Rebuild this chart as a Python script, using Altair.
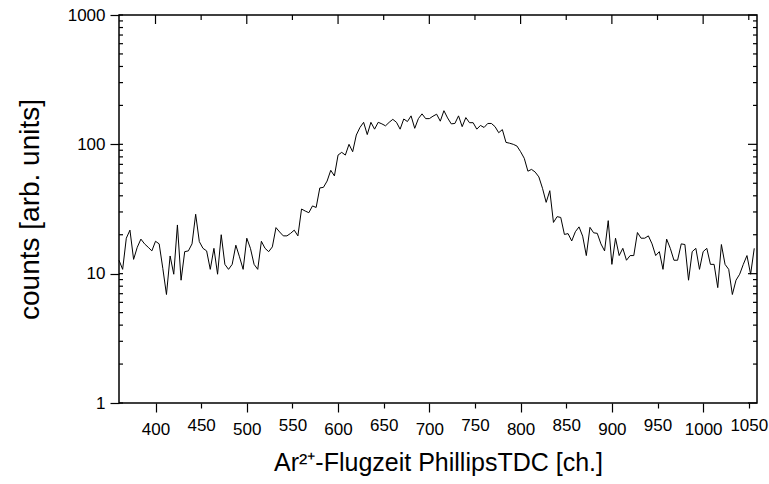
import altair as alt
import pandas as pd

# channel positions (step of 4 channels) and counts
channels = list(range(360, 1060, 4))
counts = [
    12.7, 10.8, 18.8, 21.7, 12.9, 16, 18.5, 17, 16, 15,
    17.8, 17, 11, 6.9, 13.7, 9.9, 23.8, 8.9, 14.8, 15,
    17, 28.8, 17.7, 15.7, 15, 10.8, 15.7, 9.9, 20, 11.8,
    10.8, 11.8, 16.6, 13.5, 10.8, 18.8, 15.7, 11.8, 10.8, 17.8,
    15.7, 14.8, 16.1, 22.7, 21, 19.6, 19.6, 20.5, 21.7, 19.6,
    31.6, 30.5, 29.6, 33.4, 32.5, 46, 46.5, 52, 63, 57,
    82.6, 86.7, 82.6, 100, 87.7, 118, 135, 148, 119, 148,
    131, 148, 144, 139, 148, 156, 148, 131, 157, 150,
    166, 133, 158, 172, 158, 158, 165, 171, 151, 182,
    160, 144, 145, 166, 137, 161, 147, 147, 131, 140,
    135, 145, 145, 137, 123, 130, 103.5, 102, 100, 97,
    87.7, 78, 62, 64, 61, 56, 45.7, 35.6, 43.8, 24.9,
    27.6, 27.2, 20.1, 20.4, 17.9, 21.1, 23, 19.5, 13.8, 22.8,
    20.7, 20.5, 17, 15, 25.7, 11.8, 18.8, 13.8, 15.7, 12.7,
    13.8, 13.8, 20.8, 18.8, 18.8, 19.6, 17, 13.8, 14.8, 10.8,
    18.5, 15.7, 12.7, 12.7, 17, 16.8, 8.9, 14.8, 15.7, 10.8,
    14.8, 15.7, 11.8, 11.8, 7.8, 16.8, 11.8, 10.8, 6.9, 8.9,
    9.9, 11.8, 13.8, 9.9, 15.7,
]

x_major = [400, 500, 600, 700, 800, 900, 1000]
x_minor = [450, 550, 650, 750, 850, 950, 1050]
x_labels = sorted(x_major + x_minor)
y_major = [1, 10, 100, 1000]
y_minor = [2, 3, 4, 5, 6, 7, 8, 9,
           20, 30, 40, 50, 60, 70, 80, 90,
           200, 300, 400, 500, 600, 700, 800, 900]

x_title = "Ar²⁺-Flugzeit PhillipsTDC [ch.]"
y_title = "counts [arb. units]"

W, H = 638, 388
FONT = "Liberation Sans"

df = pd.DataFrame({"ch": channels, "counts": counts})
xmaj = pd.DataFrame({"ch": x_major})
xmin = pd.DataFrame({"ch": x_minor})
ymaj = pd.DataFrame({"counts": y_major})
ymin = pd.DataFrame({"counts": y_minor})

xscale = alt.Scale(domain=[360, 1059], nice=False, zero=False)
yscale = alt.Scale(type="log", domain=[1, 1000], nice=False)

xaxis = alt.Axis(values=x_labels, title=x_title, format="d",
                 tickSize={"condition": {"test": "datum.value % 100 === 0", "value": 9}, "value": 5},
                 labelPadding=9, titlePadding=13, titleFontSize=25)
yaxis = alt.Axis(values=y_major, title=y_title, format="d",
                 tickSize=9, labelPadding=5, titlePadding=23, titleFontSize=28)

X = alt.X("ch:Q", scale=xscale, axis=xaxis)
Y = alt.Y("counts:Q", scale=yscale, axis=yaxis)

line = alt.Chart(df).mark_line(color="black", strokeWidth=1).encode(x=X, y=Y)

def rules_x(data, y0, y1):
    return alt.Chart(data).mark_rule(color="black", strokeWidth=1.2).encode(
        x=X, y=alt.value(y0), y2=alt.value(y1))

def rules_y(data, x0, x1):
    return alt.Chart(data).mark_rule(color="black", strokeWidth=1.2).encode(
        y=Y, x=alt.value(x0), x2=alt.value(x1))

top_major = rules_x(xmaj, 0, 9)
top_minor = rules_x(xmin, 0, 5)
left_minor = rules_y(ymin, 0, 4)
left_major = rules_y(ymaj, 0, 4)
right_major = rules_y(ymaj, W, W - 9)
right_minor = rules_y(ymin, W, W - 4)

chart = alt.layer(
    line, top_major, top_minor, left_minor, left_major, right_major, right_minor
).properties(
    width=W, height=H,
    autosize=alt.AutoSizeParams(type="none"),
    padding={"left": 119, "top": 15, "right": 12, "bottom": 81},
    background="white",
).configure_view(
    stroke="black", strokeWidth=1.5
).configure_axis(
    domain=False, grid=False,
    tickColor="black", tickWidth=1.2,
    labelFont=FONT, labelFontSize=17, labelColor="black",
    titleFont=FONT, titleFontWeight="normal", titleColor="black",
)

chart.save("out.html", embed_options={"renderer": "svg", "actions": False})
